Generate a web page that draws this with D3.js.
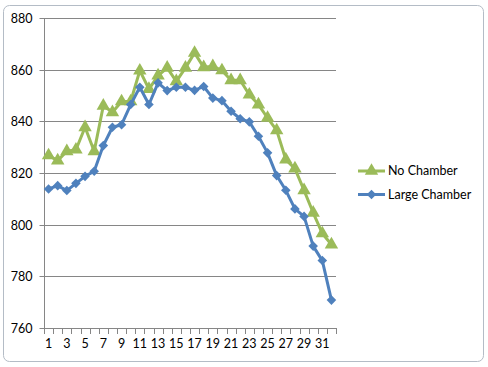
<!DOCTYPE html>
<html>
<head>
<meta charset="utf-8">
<script src="https://cdn.jsdelivr.net/npm/d3@7"></script>
<style>
  body { margin: 0; background: #fff; }
  text { font-family: Lato, "Open Sans", sans-serif; font-size: 12.5px; fill: #000; }
</style>
</head>
<body>
<div id="chart-area"></div>
<script>
// values
var days = d3.range(1, 33);
var noChamber = [826.8, 824.8, 828.4, 829, 837.7, 828.4, 846, 843.5, 847.7, 847.7,
                 859.6, 852.5, 857.7, 860.7, 855.5, 860.7, 866.5, 860.9, 861.3, 859.7,
                 855.9, 855.9, 850.3, 846.5, 841.3, 836.5, 825.2, 821.7, 813.3, 804.6,
                 796.6, 792.3];
var largeChamber = [813.8, 815.1, 813.2, 816, 818.7, 820.7, 830.6, 837.7, 838.7, 846.5,
                    853.2, 846.5, 854.9, 851.9, 853.2, 853.2, 852, 853.5, 849, 848,
                    843.9, 841, 839.8, 834.2, 827.8, 819, 813.3, 806.1, 803.2, 791.7,
                    786.1, 770.8];
var yTicks = [760, 780, 800, 820, 840, 860, 880];
var seriesNames = ["No Chamber", "Large Chamber"];

var width = 488, height = 367;
var plotLeft = 44, plotRight = 336, plotTop = 18, plotBottom = 328;

var svg = d3.select("#chart-area").append("svg")
    .attr("width", width)
    .attr("height", height);

// chart frame
svg.append("rect")
    .attr("x", 3.5).attr("y", 5.5)
    .attr("width", 480).attr("height", 356)
    .attr("rx", 6)
    .attr("fill", "#fff")
    .attr("stroke", "#b4bcc6");

var x = d3.scaleBand().domain(days).range([plotLeft, plotRight]);
var y = d3.scaleLinear().domain([760, 880]).range([plotBottom, plotTop]);

// gridlines
svg.selectAll("line.grid").data(yTicks.slice(1)).enter().append("line")
    .attr("class", "grid")
    .attr("x1", plotLeft).attr("x2", plotRight)
    .attr("y1", function(d) { return Math.round(y(d)) + 0.5; })
    .attr("y2", function(d) { return Math.round(y(d)) + 0.5; })
    .attr("stroke", "#868686");

// y axis
var yAxis = svg.append("g")
    .attr("transform", "translate(" + (plotLeft + 0.5) + ",0)")
    .call(d3.axisLeft(y).tickValues(yTicks).tickSize(5).tickPadding(7).tickFormat(d3.format("d")));
yAxis.select(".domain").attr("stroke", "#868686").attr("d", "M0," + plotTop + "V" + plotBottom);
yAxis.selectAll(".tick").attr("transform", function(d) { return "translate(0," + (Math.round(y(d)) + 0.5) + ")"; });
yAxis.selectAll(".tick line").attr("stroke", "#868686");
yAxis.selectAll(".tick text").attr("fill", "#000").style("font-size", "12.5px");

// x axis
var xAxis = svg.append("g")
    .attr("transform", "translate(0," + (plotBottom + 0.5) + ")")
    .call(d3.axisBottom(x).tickValues(days.filter(function(d) { return d % 2 == 1; })).tickSize(0).tickPadding(11));
xAxis.select(".domain").attr("stroke", "#868686").attr("d", "M" + plotLeft + ",0H" + plotRight);
xAxis.selectAll(".tick text").attr("fill", "#000").style("font-size", "12.5px");
// category boundary ticks
svg.selectAll("line.xtick").data(d3.range(0, 33)).enter().append("line")
    .attr("class", "xtick")
    .attr("x1", function(i) { return Math.round(plotLeft + i * x.step()) + 0.5; })
    .attr("x2", function(i) { return Math.round(plotLeft + i * x.step()) + 0.5; })
    .attr("y1", plotBottom).attr("y2", plotBottom + 6)
    .attr("stroke", "#868686");

var cx = function(d, i) { return x(days[i]) + x.bandwidth() / 2; };
var line = d3.line().x(cx).y(function(d) { return y(d); });

var green = "#9bbb59", blue = "#4f81bd";
var triangle = d3.symbol().type(d3.symbolTriangle).size(78);
var diamond = d3.symbol().type(d3.symbolSquare).size(46);

// No Chamber
svg.append("path").datum(noChamber)
    .attr("d", line).attr("fill", "none")
    .attr("stroke", green).attr("stroke-width", 3).attr("stroke-linejoin", "round");
svg.selectAll("path.tri").data(noChamber).enter().append("path")
    .attr("class", "tri")
    .attr("d", triangle)
    .attr("fill", green)
    .attr("transform", function(d, i) { return "translate(" + cx(d, i) + "," + y(d) + ")"; });

// Large Chamber
svg.append("path").datum(largeChamber)
    .attr("d", line).attr("fill", "none")
    .attr("stroke", blue).attr("stroke-width", 3).attr("stroke-linejoin", "round");
svg.selectAll("path.dia").data(largeChamber).enter().append("path")
    .attr("class", "dia")
    .attr("d", diamond)
    .attr("fill", blue)
    .attr("transform", function(d, i) { return "translate(" + cx(d, i) + "," + y(d) + ") rotate(45)"; });

// legend
var legend = svg.selectAll("g.legend").data(seriesNames).enter().append("g")
    .attr("class", "legend")
    .attr("transform", function(d, i) { return "translate(358," + (171 + i * 23.5) + ")"; });
legend.append("line")
    .attr("x1", 0).attr("x2", 27)
    .attr("stroke", function(d, i) { return i == 0 ? green : blue; })
    .attr("stroke-width", 3);
legend.append("path")
    .attr("d", function(d, i) { return i == 0 ? triangle() : diamond(); })
    .attr("fill", function(d, i) { return i == 0 ? green : blue; })
    .attr("transform", function(d, i) { return "translate(13.5,0)" + (i == 1 ? " rotate(45)" : ""); });
legend.append("text")
    .attr("x", 30).attr("dy", "0.35em")
    .text(function(d) { return d; });
</script>
</body>
</html>
